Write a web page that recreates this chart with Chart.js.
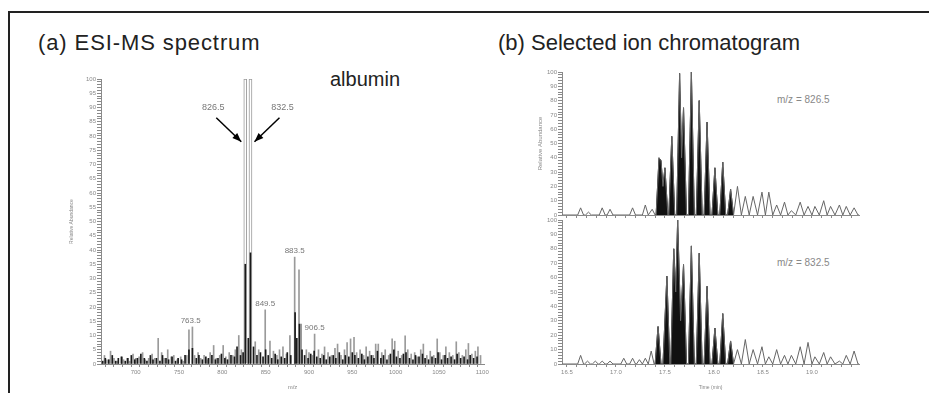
<!DOCTYPE html>
<html>
<head>
<meta charset="utf-8">
<script src="https://cdn.jsdelivr.net/npm/chart.js@4.4.1/dist/chart.umd.min.js"></script>
<style>
  body { margin: 0; width: 929px; height: 393px; background: #fff; position: relative; overflow: hidden; font-family: "Liberation Sans", Arial, sans-serif; }
  .frame { position: absolute; left: 8px; top: 11px; right: 0; bottom: 0; border-top: 2px solid #222; border-left: 2px solid #222; }
  .title { position: absolute; font-size: 22px; color: #222; white-space: nowrap; }
  .tag { position: absolute; font-size: 10px; color: #888; white-space: nowrap; }
  canvas { position: absolute; }
</style>
</head>
<body>
<div class="frame"></div>
<div class="title" style="left:38px;top:30px;letter-spacing:0.9px">(a) ESI-MS spectrum</div>
<div class="title" style="left:498px;top:30px">(b) Selected ion chromatogram</div>
<div class="title" style="left:330px;top:68px;font-size:20px">albumin</div>
<div class="tag" style="left:777px;top:94px">m/z = 826.5</div>
<div class="tag" style="left:777px;top:257px">m/z = 832.5</div>

<canvas id="spectrumChart" width="440" height="323" style="left:60px;top:70px"></canvas>
<canvas id="sicTopChart" width="360" height="158" style="left:520px;top:62px"></canvas>
<canvas id="sicBottomChart" width="360" height="179" style="left:520px;top:214px"></canvas>

<script>
// (a) ESI-MS spectrum - black sticks
const specBlackMz = [
  662, 665, 669, 673, 677, 680, 684, 688, 691, 695,
  699, 702, 706, 710, 713, 717, 720, 724, 728, 731,
  735, 738, 742, 746, 749, 753, 757, 761.5, 765.5, 770,
  773, 777, 781, 784, 788, 792, 795, 799, 803, 806,
  810, 814, 817, 821, 824, 826.5, 830, 832.5, 836, 840,
  844, 847, 850, 853, 857, 861, 864, 868, 872, 875,
  879, 884, 886, 889, 892, 895, 899, 902, 906, 909,
  913, 917, 920, 924, 928, 931, 935, 939, 942, 946,
  950, 953, 957, 961, 964, 968, 972, 975, 979, 983,
  986, 990, 994, 998, 1001, 1005, 1009, 1012, 1016, 1020,
  1023, 1027, 1031, 1034, 1038, 1042, 1046, 1049, 1053, 1057,
  1060, 1064, 1068, 1071, 1075, 1079, 1083, 1086, 1090, 1094
];
const specBlackInt = [
  1, 2, 1.5, 3, 1, 2, 2.5, 1, 2, 3,
  1.5, 2, 3.5, 2, 1, 3, 1.5, 2, 1, 3,
  2, 1.5, 2.5, 1, 2, 1.5, 3, 5, 5.5, 2,
  3, 1.5, 2.5, 2, 3, 1.5, 2, 3.5, 2, 1.5,
  3, 2.5, 6, 3, 4, 35, 9, 39, 6, 3,
  4, 2.5, 5, 3, 2, 3.5, 1.5, 2.5, 2, 4,
  3, 18, 9, 14, 5, 3, 2, 3.5, 4.5, 2.5,
  2, 3, 1.5, 2.5, 3, 2, 4, 1.5, 3, 2.5,
  4, 3, 2, 3.5, 1.5, 2.5, 3, 2, 4.5, 2,
  3, 1.5, 3.5, 5, 2.5, 2, 3.5, 4, 2, 1.5,
  3, 2.5, 3.5, 2, 1.5, 2.5, 2, 4, 1.5, 3,
  2, 2.5, 1.5, 3.5, 2, 2.5, 1.5, 3, 2, 2.5
];

// gray sticks
const specGrayMz = [
  664, 667, 671, 675, 679, 683, 686, 690, 693, 697,
  700, 704, 708, 711, 715, 719, 722, 726, 730, 733,
  737, 741, 744, 748, 752, 755, 759, 761.5, 765.5, 768,
  772, 775, 779, 783, 786, 790, 793, 797, 801, 804,
  808, 812, 815, 819, 822, 838, 842, 849.5, 855, 859,
  863, 866, 870, 874, 878, 883.5, 888.5, 891, 897, 900,
  904, 906.5, 911, 915, 918, 922, 926, 930, 933, 937,
  941, 944, 948, 952, 955, 959, 963, 966, 970, 974,
  977, 980, 984, 988, 992, 996, 999, 1003, 1007, 1011,
  1014, 1018, 1022, 1025, 1029, 1032, 1036, 1040, 1044, 1048,
  1051, 1055, 1058, 1062, 1066, 1070, 1073, 1077, 1081, 1084,
  1088, 1092, 1095, 1098
];
const specGrayInt = [
  3, 1.5, 4.5, 2, 1, 2.5, 1.5, 2, 1, 3.5,
  2, 2.5, 4, 1.5, 2, 3.5, 2, 9, 4, 2,
  5, 2.5, 3, 1.5, 2.5, 1, 3, 12, 13, 3,
  4, 2, 3, 1.5, 4, 6.5, 2, 3, 6.5, 2.5,
  4, 3, 5, 10, 5, 7.8, 5, 19, 8, 4.5,
  3, 5, 6, 3.5, 10, 37.5, 33, 14, 5, 4,
  3, 10.5, 5, 3.5, 6, 4, 3, 5.5, 7, 3,
  5, 7.5, 8.8, 9.4, 4, 5, 3, 6, 4.5, 3,
  7, 7, 4, 5, 3, 8.8, 8, 4.5, 3, 9.9,
  5, 3.5, 4, 2.5, 5, 7, 3, 4.5, 3, 8.8,
  4, 3, 6, 4, 3, 7.8, 4, 3, 5, 7.2,
  3.5, 4.5, 6, 3
];

// base peaks (drawn hollow)
const majorMz = [826.5, 832.5];
const majorInt = [100, 100];

const peakLabelMz = [763.5, 849.5, 883.5, 906.5];
const peakLabelInt = [13, 19, 37.5, 10.5];
const arrowMz = [826.5, 832.5];
const arrowTipInt = 78;

// (b) selected ion chromatograms
const sic826Time = [
  16.45, 16.61, 16.64, 16.67, 16.69, 16.72, 16.75, 16.83, 16.86, 16.89, 16.91, 16.94, 16.97, 17.14, 17.17, 17.20, 17.27, 17.30, 17.33, 17.37, 17.40,
  17.41, 17.44, 17.46, 17.48, 17.50, 17.53, 17.54, 17.57, 17.60, 17.62, 17.65, 17.67, 17.69, 17.72, 17.74, 17.77, 17.80, 17.82, 17.85, 17.88, 17.90, 17.93, 17.96, 17.98, 18.01, 18.04, 18.06, 18.09, 18.12, 18.14, 18.17, 18.20,
  18.24, 18.28, 18.32, 18.36, 18.40, 18.445, 18.49, 18.525, 18.56, 18.60, 18.64, 18.68, 18.72, 18.755, 18.79, 18.835, 18.88, 18.92, 18.96, 19.00, 19.03, 19.075, 19.12, 19.155, 19.19, 19.235, 19.28, 19.315, 19.35, 19.39, 19.43, 19.47, 19.48
];
const sic826Abund = [
  0, 0, 5, 0, 0, 2, 0, 0, 5, 0, 0, 4, 0, 0, 5, 0, 0, 7, 0, 4, 0,
  0, 40, 38, 20, 33, 0, 0, 55, 0, 0, 99, 40, 75, 0, 0, 100, 0, 0, 80, 0, 0, 65, 0, 0, 33, 0, 0, 37, 0, 0, 18, 0,
  20, 0, 13, 0, 13, 0, 16, 0, 16, 0, 7, 0, 9, 0, 3, 0, 9, 0, 6, 0, 6, 0, 10, 0, 6, 0, 7, 0, 6, 0, 5, 0, 0
];
const sic832Time = [
  16.45, 16.61, 16.64, 16.67, 16.68, 16.71, 16.74, 16.76, 16.79, 16.82, 16.83, 16.86, 16.89, 16.91, 16.94, 16.97, 17.05, 17.08, 17.11, 17.14, 17.17, 17.20, 17.21, 17.24, 17.27, 17.30, 17.33, 17.36, 17.39,
  17.40, 17.43, 17.46, 17.48, 17.52, 17.55, 17.56, 17.59, 17.61, 17.63, 17.66, 17.69, 17.72, 17.74, 17.77, 17.80, 17.82, 17.85, 17.88, 17.90, 17.93, 17.96, 17.98, 18.01, 18.04, 18.06, 18.09, 18.12, 18.14, 18.17, 18.20,
  18.24, 18.28, 18.32, 18.36, 18.40, 18.445, 18.49, 18.525, 18.56, 18.60, 18.64, 18.68, 18.72, 18.755, 18.79, 18.835, 18.88, 18.92, 18.96, 19.00, 19.03, 19.075, 19.12, 19.155, 19.19, 19.235, 19.28, 19.315, 19.35, 19.39, 19.43, 19.47, 19.48
];
const sic832Abund = [
  0, 0, 6, 0, 0, 2, 0, 0, 2, 0, 0, 2, 0, 0, 2, 0, 0, 4, 0, 0, 4, 0, 0, 3, 0, 4, 0, 9, 0,
  0, 26, 0, 0, 61, 0, 0, 80, 50, 100, 30, 69, 0, 0, 82, 0, 0, 77, 0, 0, 54, 0, 0, 25, 0, 0, 35, 0, 0, 16, 0,
  10, 0, 17, 0, 10, 0, 12, 0, 5, 0, 10, 0, 6, 0, 6, 0, 12, 0, 15, 0, 5, 0, 8, 0, 5, 0, 2, 0, 6, 0, 9, 0, 0
];
// scans shown filled black
const fillStart = 17.40;
const fillEnd = 18.20;

const AXIS = '#8a8a8a';
const TICK_FONT = { family: 'Liberation Sans', size: 6 };

function toPoints(xs, ys) {
    return xs.map((x, i) => ({ x: x, y: ys[i] }));
}

function drawArrow(ctx, x1, y1, x2, y2) {
    ctx.beginPath();
    ctx.moveTo(x1, y1);
    ctx.lineTo(x2, y2);
    ctx.stroke();
    const a = Math.atan2(y2 - y1, x2 - x1);
    const len = 9, w = 3.5;
    ctx.beginPath();
    ctx.moveTo(x2, y2);
    ctx.lineTo(x2 - len * Math.cos(a) + w * Math.sin(a), y2 - len * Math.sin(a) - w * Math.cos(a));
    ctx.lineTo(x2 - len * Math.cos(a) - w * Math.sin(a), y2 - len * Math.sin(a) + w * Math.cos(a));
    ctx.closePath();
    ctx.fill();
}

const peakLabelPlugin = {
    id: 'peakLabels',
    afterDatasetsDraw(chart) {
        const { ctx, scales: { x, y } } = chart;
        ctx.save();
        ctx.font = '8px "Liberation Sans"';
        ctx.fillStyle = '#777';
        ctx.textAlign = 'center';
        ctx.textBaseline = 'bottom';
        peakLabelMz.forEach((mz, i) => {
            ctx.fillText(mz.toFixed(1), x.getPixelForValue(mz), y.getPixelForValue(peakLabelInt[i]) - 2);
        });

        // arrows to the two base peaks
        ctx.strokeStyle = '#000';
        ctx.lineWidth = 1.5;
        arrowMz.forEach((mz, i) => {
            const side = i === 0 ? -1 : 1;
            const tipX = x.getPixelForValue(mz) + side * 4;
            const tipY = y.getPixelForValue(arrowTipInt);
            const tailX = tipX + side * 25;
            const tailY = tipY - 24;
            ctx.fillStyle = '#000';
            drawArrow(ctx, tailX, tailY, tipX, tipY);
            ctx.fillStyle = '#777';
            ctx.font = '9px "Liberation Sans"';
            ctx.fillText(mz.toFixed(1), tailX + side * 3, tailY - 6);
        });
        ctx.restore();
    }
};

function initSpectrum() {
    const ctx = document.getElementById('spectrumChart').getContext('2d');
    new Chart(ctx, {
        type: 'bar',
        data: {
            datasets: [
                { data: toPoints(specBlackMz, specBlackInt), backgroundColor: '#1a1a1a', barThickness: 1, grouped: false },
                { data: toPoints(specGrayMz, specGrayInt), backgroundColor: '#9a9a9a', barThickness: 1, grouped: false },
                { data: toPoints(majorMz, majorInt), backgroundColor: '#fff', borderColor: '#9a9a9a', borderWidth: 1, barThickness: 3, grouped: false }
            ]
        },
        options: {
            responsive: false,
            animation: false,
            layout: { padding: { left: 7, top: 9, right: 16, bottom: 2 } },
            plugins: { legend: { display: false }, tooltip: { enabled: false } },
            scales: {
                x: {
                    type: 'linear', min: 660, max: 1102, offset: false,
                    border: { color: AXIS },
                    grid: { drawOnChartArea: false, color: AXIS, tickLength: 3 },
                    ticks: {
                        stepSize: 10, autoSkip: false, includeBounds: false, maxRotation: 0,
                        font: TICK_FONT, color: '#888', padding: 2,
                        callback: v => v % 50 === 0 ? String(v) : ''
                    },
                    title: { display: true, text: 'm/z', font: { size: 6 }, color: '#888', padding: { top: 0, bottom: 0 } },
                    afterFit: s => { s.height = 27; }
                },
                y: {
                    min: 0, max: 100,
                    border: { color: AXIS },
                    grid: { drawOnChartArea: false, color: AXIS, tickLength: 4 },
                    ticks: {
                        stepSize: 1, autoSkip: false, font: TICK_FONT, color: '#888', padding: 1,
                        callback: v => v % 5 === 0 ? String(v) : ''
                    },
                    title: { display: true, text: 'Relative Abundance', font: { size: 5 }, color: '#888', padding: { top: 2, bottom: 0 } },
                    afterFit: s => { s.width = 34; }
                }
            }
        },
        plugins: [peakLabelPlugin]
    });
}

function makeSic(canvasId, times, abund, opts) {
    const all = toPoints(times, abund);
    const filled = all.filter(p => p.x >= fillStart && p.x <= fillEnd);
    const ctx = document.getElementById(canvasId).getContext('2d');
    return new Chart(ctx, {
        type: 'line',
        data: {
            datasets: [
                { data: all, borderColor: '#666', borderWidth: 1, pointRadius: 0, tension: 0, fill: false },
                { data: filled, borderColor: '#111', backgroundColor: '#111', borderWidth: 1, pointRadius: 0, tension: 0, fill: 'origin' }
            ]
        },
        options: {
            responsive: false,
            animation: false,
            layout: { padding: opts.padding },
            plugins: { legend: { display: false }, tooltip: { enabled: false } },
            scales: {
                x: {
                    type: 'linear', min: 16.45, max: 19.48,
                    border: { color: AXIS },
                    grid: { drawOnChartArea: false, color: AXIS, tickLength: 3 },
                    ticks: {
                        stepSize: 0.1, autoSkip: false, includeBounds: false, maxRotation: 0,
                        font: TICK_FONT, color: '#888', padding: 2,
                        callback: v => (opts.showX && Math.abs(v * 2 - Math.round(v * 2)) < 1e-6) ? v.toFixed(1) : ''
                    },
                    title: { display: opts.showX, text: 'Time (min)', font: { size: 5 }, color: '#888', padding: { top: 0, bottom: 0 } },
                    afterFit: s => { s.height = opts.xHeight; }
                },
                y: {
                    min: 0, max: 100,
                    border: { color: AXIS },
                    grid: { drawOnChartArea: false, color: AXIS, tickLength: 4 },
                    ticks: {
                        stepSize: 2, autoSkip: false, font: TICK_FONT, color: '#888', padding: 1,
                        callback: v => v % 10 === 0 ? String(v) : ''
                    },
                    title: { display: opts.showTitle, text: 'Relative Abundance', font: { size: 6 }, color: '#888', padding: { top: 2, bottom: 0 } },
                    afterFit: s => { s.width = 27; }
                }
            }
        }
    });
}

function initChromatograms() {
    makeSic('sicTopChart', sic826Time, sic826Abund, {
        padding: { left: 15, top: 10, right: 21, bottom: 0 }, xHeight: 5, showX: false, showTitle: true
    });
    makeSic('sicBottomChart', sic832Time, sic832Abund, {
        padding: { left: 15, top: 6, right: 21, bottom: 2 }, xHeight: 27, showX: true, showTitle: false
    });
}

initSpectrum();
initChromatograms();
</script>
</body>
</html>
